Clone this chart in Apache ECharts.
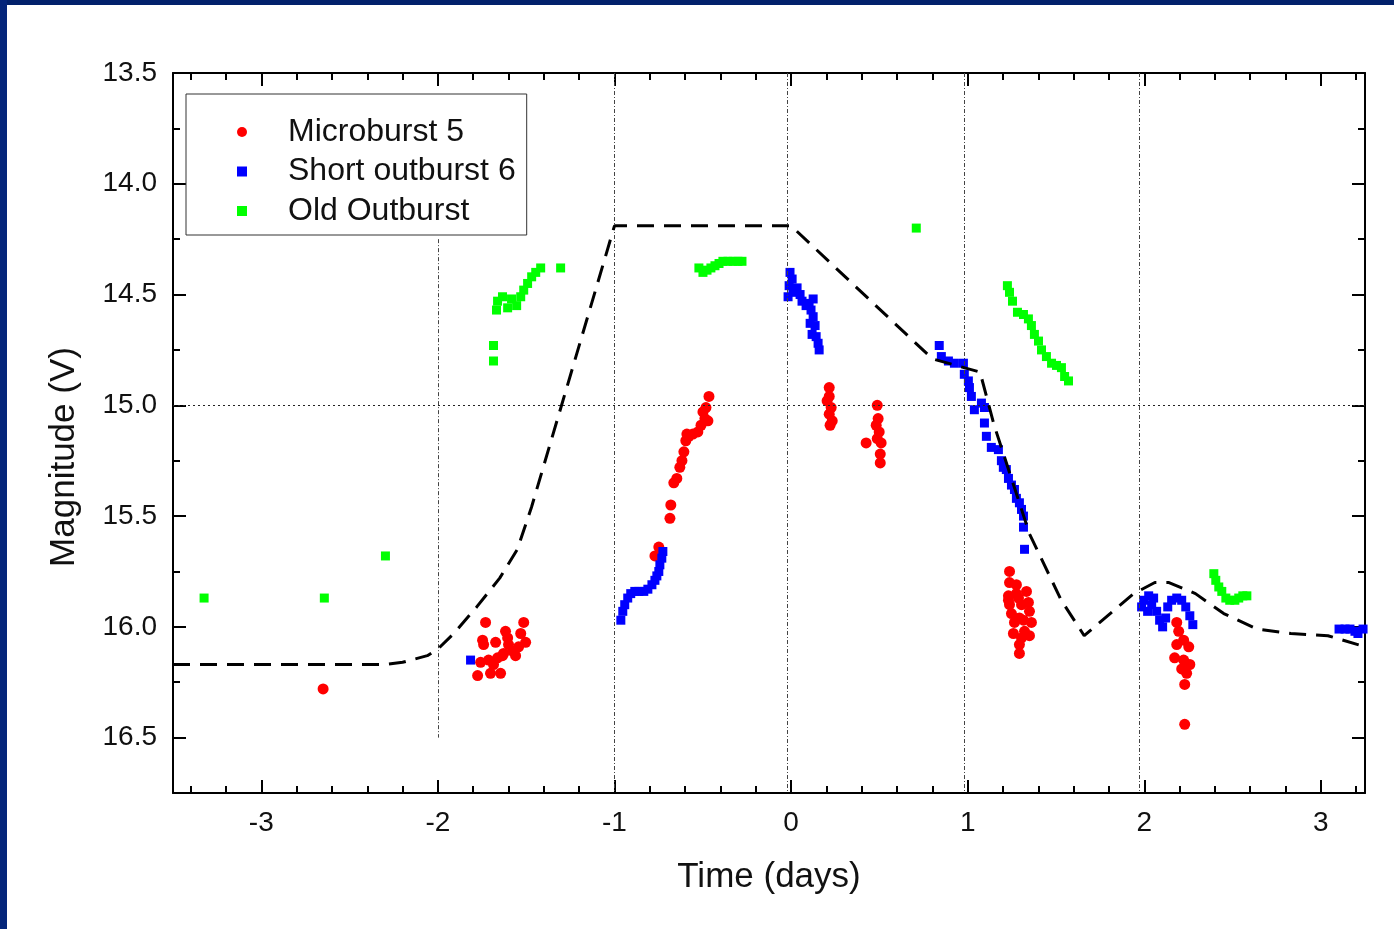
<!DOCTYPE html>
<html>
<head>
<meta charset="utf-8">
<title>Magnitude (V) vs Time (days)</title>
<script src="https://cdn.jsdelivr.net/npm/echarts@6/dist/echarts.min.js"></script>
<style>
  html, body { margin: 0; padding: 0; background: #fff; }
  #chart { width: 1394px; height: 929px; }
</style>
</head>
<body>
<div id="chart"></div>
<script>
// ---- Data: [time in days, V magnitude] ----
const microburst5 = [
  [-2.65, 16.28],
  [-1.730, 15.98], [-1.747, 16.06], [-1.741, 16.08], [-1.673, 16.07], [-1.617, 16.02],
  [-1.605, 16.05], [-1.531, 16.03], [-1.514, 15.98], [-1.503, 16.07], [-1.543, 16.09],
  [-1.560, 16.13], [-1.628, 16.12], [-1.634, 16.13], [-1.662, 16.14], [-1.713, 16.15],
  [-1.758, 16.16], [-1.775, 16.22], [-1.702, 16.21], [-1.645, 16.21], [-1.685, 16.17],
  [-1.600, 16.08], [-1.577, 16.11],
  [-0.749, 15.64], [-0.771, 15.68], [-0.686, 15.51], [-0.681, 15.45], [-0.664, 15.35],
  [-0.647, 15.33], [-0.630, 15.28], [-0.618, 15.25], [-0.607, 15.21], [-0.596, 15.16],
  [-0.579, 15.14], [-0.556, 15.13], [-0.528, 15.12], [-0.510, 15.09], [-0.488, 15.06],
  [-0.471, 15.07], [-0.499, 15.03], [-0.482, 15.01], [-0.465, 14.96], [-0.590, 15.13],
  [0.216, 14.92], [0.216, 14.96], [0.204, 14.98], [0.227, 15.01], [0.216, 15.04],
  [0.233, 15.07], [0.221, 15.09],
  [0.488, 15.00], [0.493, 15.06], [0.482, 15.09], [0.499, 15.12], [0.488, 15.15],
  [0.510, 15.17], [0.505, 15.22], [0.505, 15.26], [0.425, 15.17],
  [1.237, 15.75], [1.237, 15.80], [1.276, 15.81], [1.333, 15.84], [1.231, 15.86],
  [1.288, 15.87], [1.344, 15.89], [1.237, 15.90], [1.305, 15.90], [1.350, 15.93],
  [1.248, 15.94], [1.293, 15.96], [1.361, 15.98], [1.259, 16.03], [1.322, 16.02],
  [1.305, 16.05], [1.350, 16.04], [1.293, 16.08], [1.293, 16.12], [1.276, 15.85],
  [1.231, 15.88], [1.316, 15.97], [1.265, 15.98],
  [2.184, 15.98], [2.195, 16.02], [2.223, 16.06], [2.184, 16.08], [2.252, 16.09],
  [2.172, 16.14], [2.223, 16.15], [2.258, 16.17], [2.212, 16.19], [2.240, 16.21],
  [2.229, 16.26], [2.229, 16.44]
];

const shortOutburst6 = [
  [-1.815, 16.15],
  [-0.964, 15.97], [-0.953, 15.93], [-0.942, 15.90], [-0.925, 15.87], [-0.908, 15.85],
  [-0.885, 15.84], [-0.862, 15.84], [-0.834, 15.84], [-0.811, 15.83], [-0.788, 15.81],
  [-0.771, 15.79], [-0.760, 15.77], [-0.749, 15.75], [-0.743, 15.72], [-0.732, 15.69],
  [-0.726, 15.66],
  [-0.006, 14.40], [0.006, 14.43], [-0.011, 14.46], [0.011, 14.49], [-0.017, 14.51],
  [0.034, 14.47], [0.051, 14.50], [0.062, 14.53], [0.085, 14.55], [0.102, 14.54],
  [0.113, 14.57], [0.125, 14.60], [0.108, 14.63], [0.136, 14.64], [0.119, 14.68],
  [0.142, 14.69], [0.153, 14.72], [0.159, 14.75], [0.125, 14.52],
  [0.839, 14.73], [0.851, 14.78], [0.891, 14.80], [0.925, 14.81], [0.976, 14.81],
  [0.981, 14.86], [1.004, 14.89], [1.010, 14.92], [1.021, 14.96], [1.038, 15.02],
  [1.078, 14.99], [1.095, 15.01], [1.095, 15.08], [1.106, 15.14], [1.134, 15.19],
  [1.174, 15.20], [1.191, 15.25], [1.202, 15.28], [1.219, 15.29], [1.231, 15.33],
  [1.248, 15.36], [1.265, 15.38], [1.276, 15.42], [1.293, 15.44], [1.305, 15.47],
  [1.316, 15.50], [1.316, 15.55], [1.322, 15.65],
  [1.985, 15.91], [1.997, 15.88], [2.025, 15.86], [2.053, 15.87], [2.042, 15.90],
  [2.070, 15.93], [2.087, 15.97], [2.104, 16.00], [2.121, 15.96], [2.133, 15.91],
  [2.155, 15.88], [2.184, 15.87], [2.212, 15.88], [2.235, 15.91], [2.258, 15.95],
  [2.275, 15.99], [2.019, 15.93],
  [3.103, 16.01], [3.137, 16.01], [3.165, 16.01], [3.193, 16.02], [3.210, 16.03],
  [3.239, 16.01]
];

const oldOutburst = [
  [-3.324, 15.87], [-2.643, 15.87], [-2.297, 15.68],
  [-1.685, 14.80], [-1.685, 14.73], [-1.668, 14.57], [-1.662, 14.53], [-1.634, 14.51],
  [-1.605, 14.56], [-1.583, 14.52], [-1.554, 14.55], [-1.531, 14.51], [-1.514, 14.48],
  [-1.492, 14.45], [-1.469, 14.42], [-1.446, 14.40], [-1.418, 14.38], [-1.305, 14.38],
  [-0.522, 14.38], [-0.499, 14.40], [-0.476, 14.39], [-0.454, 14.38], [-0.431, 14.37],
  [-0.408, 14.36], [-0.386, 14.35], [-0.357, 14.35], [-0.329, 14.35], [-0.301, 14.35],
  [-0.278, 14.35],
  [0.709, 14.20],
  [1.225, 14.46], [1.237, 14.49], [1.254, 14.53], [1.282, 14.58], [1.316, 14.59],
  [1.344, 14.61], [1.361, 14.64], [1.378, 14.68], [1.401, 14.71], [1.418, 14.75],
  [1.446, 14.78], [1.475, 14.81], [1.503, 14.82], [1.531, 14.83], [1.549, 14.87],
  [1.571, 14.89],
  [2.394, 15.76], [2.405, 15.79], [2.422, 15.82], [2.439, 15.84], [2.462, 15.87],
  [2.484, 15.88], [2.513, 15.88], [2.535, 15.87], [2.558, 15.86], [2.581, 15.86]
];

// Template light curve (dashed)
const templateTime = [-3.5, -2.3, -2.2, -2.06, -2.0, -1.91, -1.78, -1.65, -1.55, -1.47,
  -1.0, 0.0, 0.8, 1.07, 1.15, 1.35, 1.53, 1.66, 1.94, 2.06, 2.14, 2.29, 2.45, 2.64, 2.83, 3.04, 3.25];
const templateMag = [16.17, 16.17, 16.16, 16.13, 16.10, 16.03, 15.91, 15.78, 15.65, 15.46,
  14.19, 14.19, 14.79, 14.85, 15.09, 15.58, 15.88, 16.04, 15.85, 15.80, 15.80, 15.85, 15.94, 16.01, 16.03, 16.04, 16.09];

// Reference epochs (vertical guides) and reference magnitude (horizontal guide)
const guideTimes = [-2.0, -1.0, -0.02, 0.98, 1.97];
const guideMag = 15.0;

// Axis ticks
const xTickValues = [-3, -2, -1, 0, 1, 2, 3];
const yTickValues = [13.5, 14.0, 14.5, 15.0, 15.5, 16.0, 16.5];
const seriesNames = ['Microburst 5', 'Short outburst 6', 'Old Outburst'];

// ---- Chart ----
const X_MIN = -3.5, X_MAX = 3.25, Y_MIN = 13.5, Y_MAX = 16.75;
const FONT = "'Liberation Sans', Arial, Helvetica, sans-serif";

const xMinor = [];
for (let i = -17; i <= 16; i++) if (i % 5 !== 0) xMinor.push(+(i * 0.2).toFixed(1));
const yMinor = [];
for (let v = 13.75; v < Y_MAX; v += 0.5) yMinor.push(v);

function makeAxis(kind, pos, ticks, len, major, withLabels) {
  const ax = {
    type: 'value',
    position: pos,
    min: kind === 'x' ? X_MIN : Y_MIN,
    max: kind === 'x' ? X_MAX : Y_MAX,
    inverse: kind === 'y',
    axisLine: { show: major, onZero: false, lineStyle: { color: '#000', width: 2 } },
    axisTick: { show: true, inside: true, length: len, customValues: ticks,
                lineStyle: { color: '#000', width: 2 } },
    axisLabel: { show: withLabels },
    splitLine: { show: false }
  };
  if (withLabels) {
    ax.axisLabel = {
      show: true, customValues: ticks, color: '#111', fontFamily: FONT, fontSize: 28,
      margin: kind === 'x' ? 16 : 16,
      formatter: kind === 'x' ? (v) => String(v) : (v) => v.toFixed(1)
    };
  }
  return ax;
}

const xAxes = [
  makeAxis('x', 'bottom', xTickValues, 13, true, true),
  makeAxis('x', 'bottom', xMinor, 7, false, false),
  makeAxis('x', 'top', xTickValues, 13, true, false),
  makeAxis('x', 'top', xMinor, 7, false, false)
];
Object.assign(xAxes[0], {
  name: 'Time (days)', nameLocation: 'middle', nameGap: 67,
  nameTextStyle: { fontSize: 35, color: '#111', fontFamily: FONT }
});
const yAxes = [
  makeAxis('y', 'left', yTickValues, 13, true, true),
  makeAxis('y', 'left', yMinor, 7, false, false),
  makeAxis('y', 'right', yTickValues, 13, true, false),
  makeAxis('y', 'right', yMinor, 7, false, false)
];

const guideLines = guideTimes.map((t, i) => [
  { coord: [t, i === 0 ? 14.25 : Y_MIN] },
  { coord: [t, i === 0 ? 16.5 : Y_MAX] }
]);
guideLines.push([
  { coord: [X_MIN, guideMag], lineStyle: { type: [2, 3], color: '#222' } },
  { coord: [X_MAX, guideMag] }
]);

const chart = echarts.init(document.getElementById('chart'), null, { renderer: 'canvas' });
chart.setOption({
  animation: false,
  backgroundColor: '#ffffff',
  grid: { left: 173, top: 73, width: 1192, height: 720, containLabel: false },
  xAxis: xAxes,
  yAxis: yAxes,
  legend: {
    data: seriesNames,
    orient: 'vertical',
    left: 186, top: 94,
    padding: [22, 11, 8, 51],
    itemGap: 7.5,
    itemWidth: 10, itemHeight: 10,
    backgroundColor: '#fff',
    borderColor: '#333', borderWidth: 1,
    textStyle: { fontSize: 32, lineHeight: 32, color: '#111', fontFamily: FONT, padding: [0, 0, 0, 36] },
    selectedMode: false
  },
  graphic: [
    { type: 'rect', shape: { x: 0, y: 0, width: 1394, height: 5 }, style: { fill: '#02216b' }, z: 100 },
    { type: 'rect', shape: { x: 0, y: 0, width: 7, height: 929 }, style: { fill: '#04257a' }, z: 100 },
    { type: 'text', x: 64, y: 457, rotation: Math.PI / 2,
      style: { text: 'Magnitude (V)', font: '35px ' + FONT, fill: '#111', align: 'center', verticalAlign: 'middle' } }
  ],
  series: [
    {
      name: 'guides', type: 'line', data: [], z: 1, silent: true,
      markLine: {
        silent: true, symbol: ['none', 'none'], label: { show: false },
        lineStyle: { type: [4, 2, 1, 2], color: '#444', width: 1 },
        data: guideLines
      }
    },
    {
      name: 'Microburst 5', type: 'scatter', data: microburst5,
      symbol: 'circle', symbolSize: 11, itemStyle: { color: '#ff0000', opacity: 1 }, z: 3
    },
    {
      name: 'Short outburst 6', type: 'scatter', data: shortOutburst6,
      symbol: 'rect', symbolSize: 9, itemStyle: { color: '#0000ff', opacity: 1 }, z: 3
    },
    {
      name: 'Old Outburst', type: 'scatter', data: oldOutburst,
      symbol: 'rect', symbolSize: 9, itemStyle: { color: '#00ff00', opacity: 1 }, z: 3
    },
    {
      name: 'template', type: 'line', silent: true, z: 5,
      data: templateTime.map((t, i) => [t, templateMag[i]]),
      symbol: 'none',
      lineStyle: { color: '#000', width: 3, type: [17, 10] }
    }
  ]
});
</script>
</body>
</html>
